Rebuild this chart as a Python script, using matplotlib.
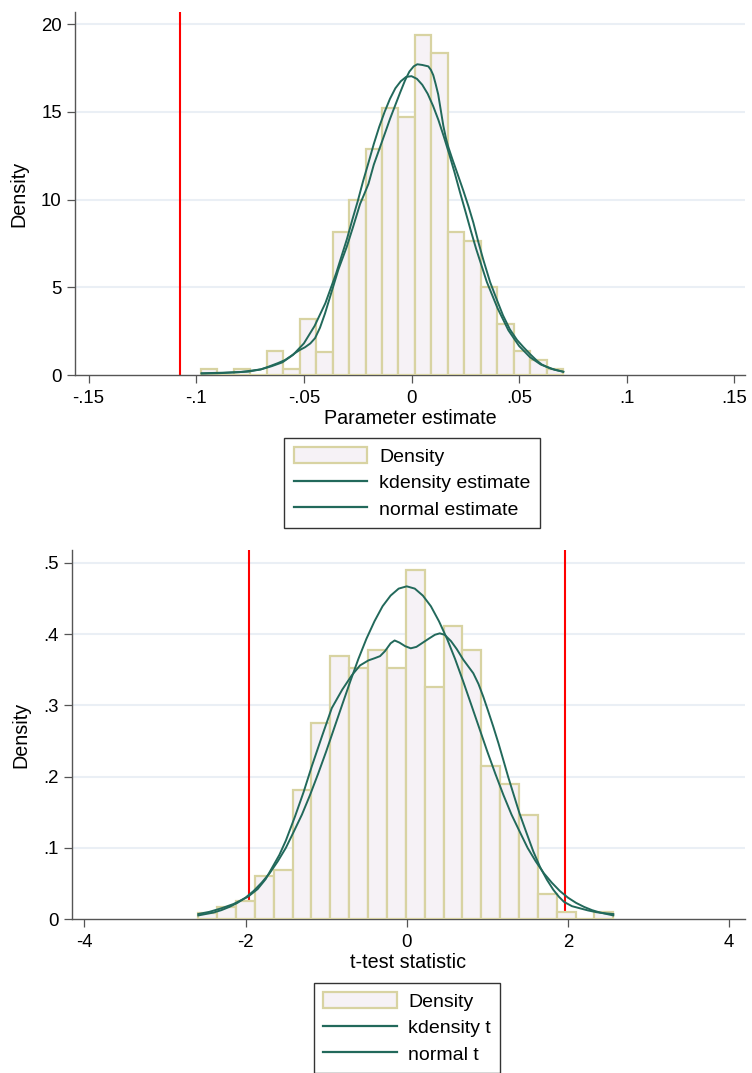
import numpy as np
import matplotlib.pyplot as plt
from matplotlib.patches import Patch
from matplotlib.lines import Line2D

plt.rcParams['font.family'] = ['Liberation Sans', 'DejaVu Sans']

# colours (Stata-like)
bar_fill = '#f6f2f6'
bar_edge = '#d8d3a2'
curve_col = '#22695b'
grid_col = '#eaeff5'
axis_col = '#555555'

# ---- top panel: parameter estimates ----
param_range = (-0.0979, 0.0705)
param_density = [0.32, 0, 0.32, 0, 1.37, 0.32, 3.17, 1.33, 8.13, 9.97, 12.88,
                 15.23, 14.72, 19.39, 18.37, 8.13, 7.65, 5.03, 2.91, 1.37, 0.85, 0.32]

param_kd_x = [-0.0975, -0.0880, -0.0758, -0.0700, -0.0665, -0.0620, -0.0588, -0.0560,
              -0.0541, -0.0520, -0.0495, -0.0470, -0.0448, -0.0425, -0.0402, -0.0371,
              -0.0340, -0.0301, -0.0270, -0.0239, -0.0220, -0.0200, -0.0175, -0.0146,
              -0.0120, -0.0100, -0.0075, -0.0053, -0.0030, -0.0010, 0.0010, 0.0027,
              0.0050, 0.0078, 0.0090, 0.0101, 0.0112, 0.0124, 0.0136, 0.0148, 0.0160,
              0.0171, 0.0190, 0.0210, 0.0241, 0.0265, 0.0287, 0.0310, 0.0334, 0.0365,
              0.0396, 0.0425, 0.0457, 0.0490, 0.0519, 0.0550, 0.0582, 0.0605, 0.0628,
              0.0665, 0.0705]
param_kd_y = [0.10, 0.13, 0.19, 0.32, 0.47, 0.68, 0.85, 1.08, 1.25, 1.42, 1.58, 1.80,
              2.10, 2.70, 3.50, 4.75, 6.00, 7.30, 8.50, 9.75, 10.30, 10.90, 12.00, 13.00,
              13.90, 14.60, 15.40, 16.10, 16.80, 17.30, 17.60, 17.72, 17.68, 17.60, 17.40,
              17.10, 16.60, 16.00, 15.10, 14.20, 13.50, 13.00, 12.30, 11.60, 10.50, 9.60,
              8.70, 7.60, 6.55, 5.30, 4.30, 3.40, 2.60, 2.00, 1.60, 1.20, 0.82, 0.60,
              0.47, 0.30, 0.19]

param_nm_x = [-0.0975, -0.090, -0.080, -0.070, -0.065, -0.060, -0.055, -0.050, -0.045,
              -0.040, -0.035, -0.030, -0.0275, -0.025, -0.0225, -0.020, -0.0175, -0.015,
              -0.0125, -0.010, -0.0075, -0.005, -0.0025, 0.000, 0.0025, 0.005, 0.0075,
              0.010, 0.0125, 0.015, 0.0175, 0.020, 0.0225, 0.025, 0.0275, 0.030, 0.035,
              0.040, 0.045, 0.050, 0.055, 0.060, 0.065, 0.0705]
param_nm_y = [0.08, 0.10, 0.16, 0.32, 0.50, 0.72, 1.15, 1.80, 2.80, 4.10, 5.80, 7.75,
              8.85, 9.90, 11.05, 12.10, 13.18, 14.15, 15.00, 15.75, 16.35, 16.75, 17.00,
              17.04, 16.89, 16.55, 16.04, 15.35, 14.54, 13.60, 12.60, 11.55, 10.43, 9.35,
              8.25, 7.20, 5.30, 3.80, 2.55, 1.65, 1.02, 0.60, 0.35, 0.18]

param_line = -0.1075
param_xticks = [-0.15, -0.1, -0.05, 0, 0.05, 0.1, 0.15]
param_xlabels = ['-.15', '-.1', '-.05', '0', '.05', '.1', '.15']
param_yticks = [0, 5, 10, 15, 20]
param_ylabels = ['0', '5', '10', '15', '20']

# ---- bottom panel: t statistics ----
t_range = (-2.586, 2.563)
t_density = [0.0089, 0.0173, 0.0257, 0.0603, 0.0690, 0.1810, 0.2750, 0.3695, 0.3517,
             0.3775, 0.3517, 0.4897, 0.3260, 0.4120, 0.3775, 0.2150, 0.1890, 0.1460,
             0.0350, 0.0092, 0.0, 0.0092]

t_kd_x = [-2.586, -2.45, -2.30, -2.15, -1.973, -1.85, -1.75, -1.675, -1.58, -1.50,
          -1.386, -1.28, -1.179, -1.05, -0.93, -0.80, -0.682, -0.579, -0.476, -0.40,
          -0.331, -0.27, -0.20, -0.15, -0.09, -0.02, 0.05, 0.12, 0.20, 0.28, 0.35, 0.41,
          0.47, 0.55, 0.62, 0.702, 0.826, 0.89, 0.95, 1.01, 1.074, 1.14, 1.199, 1.26,
          1.323, 1.40, 1.489, 1.57, 1.654, 1.74, 1.819, 1.89, 1.952, 2.05, 2.15, 2.25,
          2.357, 2.46, 2.563]
t_kd_y = [0.007, 0.010, 0.015, 0.021, 0.031, 0.042, 0.056, 0.071, 0.090, 0.110, 0.144,
          0.178, 0.214, 0.257, 0.296, 0.322, 0.342, 0.356, 0.363, 0.366, 0.369, 0.376,
          0.387, 0.391, 0.388, 0.383, 0.380, 0.382, 0.388, 0.394, 0.399, 0.401, 0.399,
          0.390, 0.379, 0.364, 0.345, 0.330, 0.312, 0.292, 0.270, 0.246, 0.223, 0.199,
          0.176, 0.148, 0.120, 0.095, 0.073, 0.055, 0.041, 0.031, 0.024, 0.018, 0.015,
          0.012, 0.0095, 0.008, 0.007]

t_nm_x = [-2.586, -2.4, -2.3, -2.2, -2.1, -2.0, -1.9, -1.8, -1.7, -1.6, -1.5, -1.4,
          -1.3, -1.2, -1.1, -1.0, -0.9, -0.8, -0.7, -0.6, -0.5, -0.4, -0.3, -0.2, -0.1,
          0.0, 0.1, 0.2, 0.3, 0.4, 0.5, 0.6, 0.7, 0.8, 0.9, 1.0, 1.1, 1.2, 1.3, 1.4,
          1.5, 1.6, 1.7, 1.8, 1.9, 2.0, 2.1, 2.2, 2.3, 2.4, 2.563]
t_nm_y = [0.005, 0.009, 0.0124, 0.017, 0.0227, 0.030, 0.0393, 0.051, 0.0644, 0.081,
          0.0998, 0.123, 0.1466, 0.174, 0.2037, 0.235, 0.268, 0.301, 0.3337, 0.365,
          0.3934, 0.418, 0.439, 0.454, 0.4638, 0.467, 0.4638, 0.454, 0.439, 0.418,
          0.3934, 0.365, 0.3337, 0.301, 0.268, 0.235, 0.2037, 0.174, 0.1466, 0.123,
          0.0998, 0.081, 0.0644, 0.051, 0.0393, 0.030, 0.0227, 0.017, 0.0124, 0.009,
          0.005]

t_lines = [-1.96, 1.96]
t_xticks = [-4, -2, 0, 2, 4]
t_xlabels = ['-4', '-2', '0', '2', '4']
t_yticks = [0, 0.1, 0.2, 0.3, 0.4, 0.5]
t_ylabels = ['0', '.1', '.2', '.3', '.4', '.5']


def draw_panel(ax, rng, dens, kd_x, kd_y, nm_x, nm_y, vlines, xlim, ylim,
               xticks, xlabels, yticks, ylabels, xtitle):
    edges = np.linspace(rng[0], rng[1], len(dens) + 1)
    ax.bar(edges[:-1], dens, width=np.diff(edges), align='edge', color=bar_fill,
           edgecolor=bar_edge, linewidth=1.6, zorder=3)
    ax.plot(kd_x, kd_y, color=curve_col, lw=1.4, zorder=4, solid_joinstyle='round')
    ax.plot(nm_x, nm_y, color=curve_col, lw=1.4, zorder=4, solid_joinstyle='round')
    for v in vlines:
        ax.axvline(v, color='red', lw=1.5, zorder=2)
    ax.set_xlim(*xlim)
    ax.set_ylim(*ylim)
    ax.set_xticks(xticks)
    ax.set_xticklabels(xlabels)
    ax.set_yticks(yticks)
    ax.set_yticklabels(ylabels)
    for y in yticks[1:]:
        ax.axhline(y, color=grid_col, lw=1.5, zorder=1)
    for s in ['top', 'right']:
        ax.spines[s].set_visible(False)
    for s in ['left', 'bottom']:
        ax.spines[s].set_color(axis_col)
        ax.spines[s].set_linewidth(1.0)
    ax.tick_params(axis='both', colors=axis_col, labelcolor='black', labelsize=13.4,
                   length=6, width=0.9)
    ax.tick_params(axis='y', pad=3.5)
    ax.tick_params(axis='x', pad=5)
    ax.set_ylabel('Density', fontsize=14.2, labelpad=9)
    ax.set_xlabel(xtitle, fontsize=14.2, labelpad=1)


W, H = 752, 1073
fig = plt.figure(figsize=(W / 100, H / 100), dpi=100)

ax1 = fig.add_axes([75 / W, 1 - 375 / H, 670 / W, 363 / H])
draw_panel(ax1, param_range, param_density, param_kd_x, param_kd_y,
           param_nm_x, param_nm_y, [param_line], (-0.1563, 0.1549), (0, 20.7),
           param_xticks, param_xlabels, param_yticks, param_ylabels, 'Parameter estimate')

ax2 = fig.add_axes([72 / W, 1 - 919 / H, 673 / W, 369 / H])
draw_panel(ax2, t_range, t_density, t_kd_x, t_kd_y, t_nm_x, t_nm_y, t_lines,
           (-4.153, 4.197), (0, 0.518), t_xticks, t_xlabels, t_yticks, t_ylabels,
           't-test statistic')


def add_legend(labels, cx, top):
    handles = [Patch(facecolor=bar_fill, edgecolor=bar_edge, linewidth=1.6),
               Line2D([], [], color=curve_col, lw=1.6),
               Line2D([], [], color=curve_col, lw=1.6)]
    leg = fig.legend(handles, labels, loc='upper center', bbox_to_anchor=(cx / W, 1 - top / H),
                     fontsize=14, frameon=True, fancybox=False, handlelength=3.8,
                     handleheight=0.9, handletextpad=0.6, labelspacing=0.39,
                     borderpad=0.48, borderaxespad=0)
    leg.get_frame().set_edgecolor('black')
    leg.get_frame().set_linewidth(1.0)


add_legend(['Density', 'kdensity estimate', 'normal estimate'], 412, 438)
add_legend(['Density', 'kdensity t', 'normal t'], 407, 983)

fig.savefig('out.png', dpi=100)
